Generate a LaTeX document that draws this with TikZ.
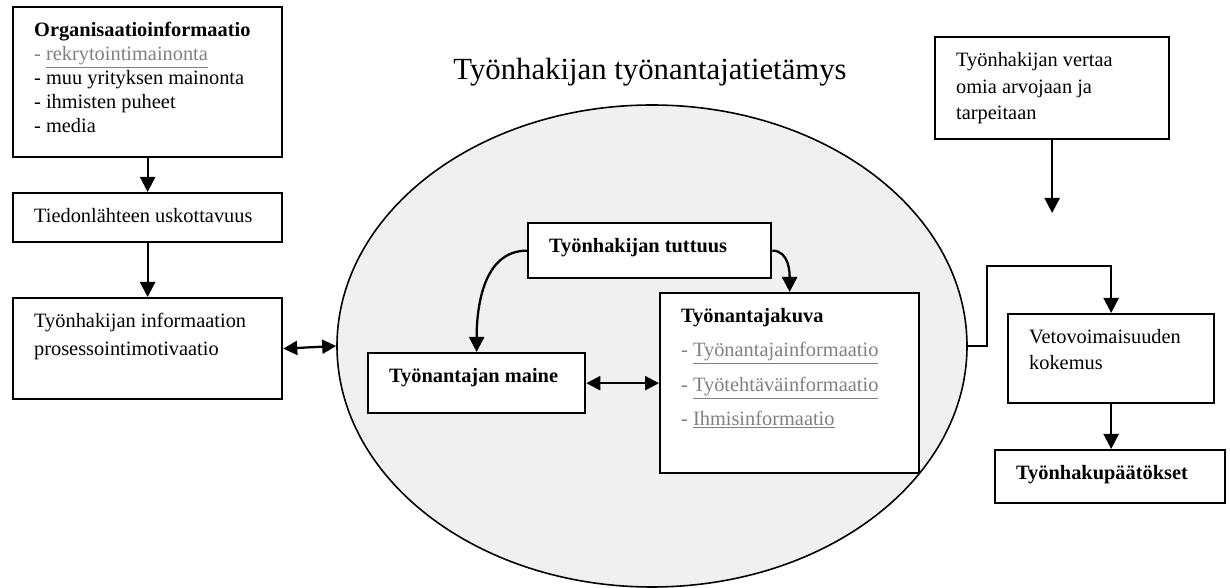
\documentclass[tikz,border=0pt]{standalone}
\usepackage{fontspec}
\setmainfont{Liberation Serif}
\usepackage{xcolor}
\usetikzlibrary{arrows.meta}
\usetikzlibrary{shapes.geometric}

\definecolor{linkgray}{RGB}{128,128,128}
\definecolor{knowfill}{RGB}{240,240,240}
\newcommand{\boxtext}[3]{\parbox[c][#2][t]{#1}{\raggedright\strut#3}}
\newcommand{\linkitem}[1]{{\color{linkgray}- \underline{#1}}}

\begin{document}
\begin{tikzpicture}
    % Box and connector styles
    \tikzset{
        box/.style={draw, line width=1.3pt, fill=white, anchor=north west,
            inner xsep=0.42cm, inner ysep=0.26cm, font=\fontsize{11.6}{13.6}\selectfont},
        arrow/.style={line width=1.3pt, -{Triangle[width=0.3cm, length=0.3cm]}},
        twoway/.style={line width=1.3pt,
            {Triangle[width=0.28cm, length=0.28cm]}-{Triangle[width=0.28cm, length=0.28cm]}}
    }
    \useasboundingbox (0,0) rectangle (24.6,-11.76);

    % ==========================================
    % KNOWLEDGE ELLIPSE
    % ==========================================
    \node[draw, ellipse, line width=0.9pt, fill=knowfill, inner sep=0pt,
        minimum width=12.6cm, minimum height=9.64cm] (tieto) at (13.04,-6.92) {};
    \node[font=\fontsize{17.5}{20}\selectfont, anchor=base] (otsikko) at (13.0,-1.60) {Työnhakijan työnantajatietämys};

    % ==========================================
    % LEFT COLUMN
    % ==========================================
    \node[box] (org) at (0.24,-0.12) {\boxtext{4.54cm}{2.48cm}{\textbf{Organisaatioinformaatio}\\
        \linkitem{rekrytointimainonta}\\ - muu yrityksen mainonta\\ - ihmisten puheet\\ - media}};
    \node[box] (lahde) at (0.24,-3.84) {\boxtext{4.54cm}{0.46cm}{Tiedonlähteen uskottavuus}};
    \node[box] (motivaatio) at (0.24,-5.94) {\boxtext{4.54cm}{1.50cm}{Työnhakijan informaation\\[2.3pt] prosessointimotivaatio}};

    % ==========================================
    % INSIDE THE ELLIPSE
    % ==========================================
    \node[box] (tuttuus) at (10.54,-4.44) {\boxtext{4.02cm}{0.58cm}{\textbf{Työnhakijan tuttuus}}};
    \node[box] (maine) at (7.34,-7.04) {\boxtext{3.50cm}{0.68cm}{\textbf{Työnantajan maine}}};
    \node[box] (kuva) at (13.18,-5.84) {\boxtext{4.34cm}{3.08cm}{\textbf{Työnantajakuva}\\[5.8pt]
        \linkitem{Työnantajainformaatio}\\[5.8pt] \linkitem{Työtehtäväinformaatio}\\[5.8pt] \linkitem{Ihmisinformaatio}}};

    % ==========================================
    % RIGHT COLUMN
    % ==========================================
    \node[box] (arvot) at (18.68,-0.72) {\boxtext{3.84cm}{1.52cm}{Työnhakijan vertaa\\[1.4pt] omia arvojaan ja\\[1.4pt] tarpeitaan}};
    \node[box] (veto) at (20.14,-6.26) {\boxtext{3.28cm}{1.26cm}{Vetovoimaisuuden\\[1.1pt] kokemus}};
    \node[box] (paatos) at (19.88,-8.98) {\boxtext{3.76cm}{0.54cm}{\textbf{Työnhakupäätökset}}};

    \coordinate (vertailu) at (21.02,-4.26);
    \coordinate (polvi) at (19.74,-5.32);

    % Connectors
    \draw[arrow] (org) -- (lahde);
    \draw[arrow] (lahde) -- (motivaatio);
    \draw[twoway] (motivaatio.east) -- (tieto.west);
    \draw[arrow] (tuttuus.west) to[out=180, in=90] (maine.north);
    \draw[arrow] (tuttuus.east) to[out=0, in=90] (kuva.north);
    \draw[twoway] (maine.east) -- (kuva.west |- maine.east);
    \draw[arrow] (arvot.south) -- (arvot.south |- vertailu);
    \draw[arrow] (tieto.east) -| (polvi) -| (veto.north);
    \draw[arrow] (veto.south) -- (veto.south |- paatos.north);
\end{tikzpicture}
\end{document}
